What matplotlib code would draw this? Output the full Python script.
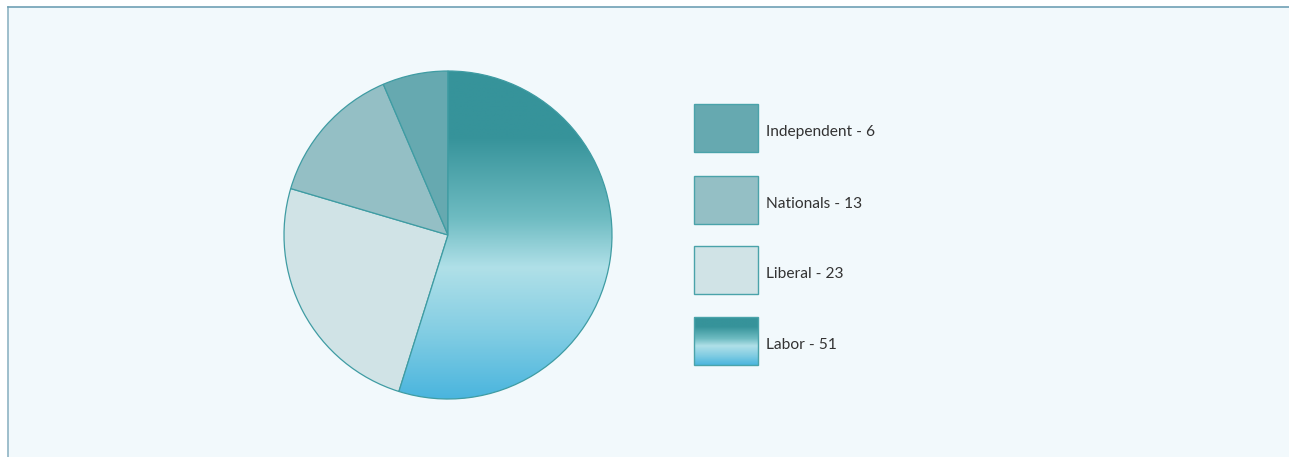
import matplotlib
matplotlib.use("Agg")
import matplotlib.pyplot as plt
import numpy as np
from matplotlib.colors import LinearSegmentedColormap
from matplotlib.patches import Rectangle
from matplotlib.lines import Line2D

labels = ["Labor", "Liberal", "Nationals", "Independent"]
values = [51, 23, 13, 6]
colors = ["#36939a", "#d0e3e6", "#94bfc5", "#66a9b0"]

W, H = 1289, 457
BG = "#f2f9fc"
EDGE = "#3f9ca3"

grad = LinearSegmentedColormap.from_list(
    "labor", [(0.0, "#36939a"), (0.2, "#36939a"), (0.45, "#6fbcc2"),
              (0.6, "#b0e0e8"), (0.8, "#82cde3"), (1.0, "#4ab5de")])

fig = plt.figure(figsize=(W / 100, H / 100), dpi=100)
fig.patch.set_facecolor("white")
ax = fig.add_axes([0, 0, 1, 1])
ax.set_xlim(0, W)
ax.set_ylim(0, H)
ax.axis("off")

# panel background
ax.add_patch(Rectangle((8, 0), W - 8, H - 7, facecolor=BG, edgecolor="none", zorder=0))
fig.add_artist(Line2D([8 / W, 8 / W], [0, 1 - 7 / H], color="#8fb4c4", lw=1.2))
fig.add_artist(Line2D([8 / W, 1], [1 - 7 / H, 1 - 7 / H], color="#6fa0b4", lw=1.2))

cx, cy, r = 448, H - 235, 164
wedges, _ = ax.pie(values, colors=colors, startangle=90, counterclock=False,
                   center=(cx, cy), radius=r, frame=True,
                   wedgeprops=dict(edgecolor=EDGE, linewidth=0.9))
ax.set_xlim(0, W)
ax.set_ylim(0, H)
ax.set_aspect("equal")
ax.axis("off")

# gradient on Labor wedge
lab = wedges[0]
lab.set_facecolor("none")
g = np.linspace(0, 1, 256).reshape(-1, 1)
im = ax.imshow(g, cmap=grad, extent=(cx - r, cx + r, cy - r, cy + r),
               origin="upper", aspect="auto", zorder=1)
im.set_clip_path(lab)
lab.set_zorder(2)

# legend
leg_order = ["Independent", "Nationals", "Liberal", "Labor"]
tops = [104, 176, 246, 317]
for name, top in zip(leg_order, tops):
    i = labels.index(name)
    x0, w, h = 694, 64, 48
    y0 = H - top - h
    if name == "Labor":
        rect = Rectangle((x0, y0), w, h, facecolor="none", edgecolor="#4aa3aa", lw=1.0, zorder=3)
        ax.add_patch(rect)
        im2 = ax.imshow(g, cmap=grad, extent=(x0, x0 + w, y0, y0 + h),
                        origin="upper", aspect="auto", zorder=2)
        im2.set_clip_path(rect)
    else:
        ax.add_patch(Rectangle((x0, y0), w, h, facecolor=colors[i], edgecolor="#4aa3aa", lw=1.0, zorder=3))
    ax.text(766, y0 + h / 2 - 4, f"{name} - {values[i]}", fontsize=11.2,
            family=["Lato", "DejaVu Sans"], color="#333333", va="center", ha="left")

ax.set_xlim(0, W)
ax.set_ylim(0, H)
fig.savefig("out.png", dpi=100, facecolor=fig.get_facecolor())
